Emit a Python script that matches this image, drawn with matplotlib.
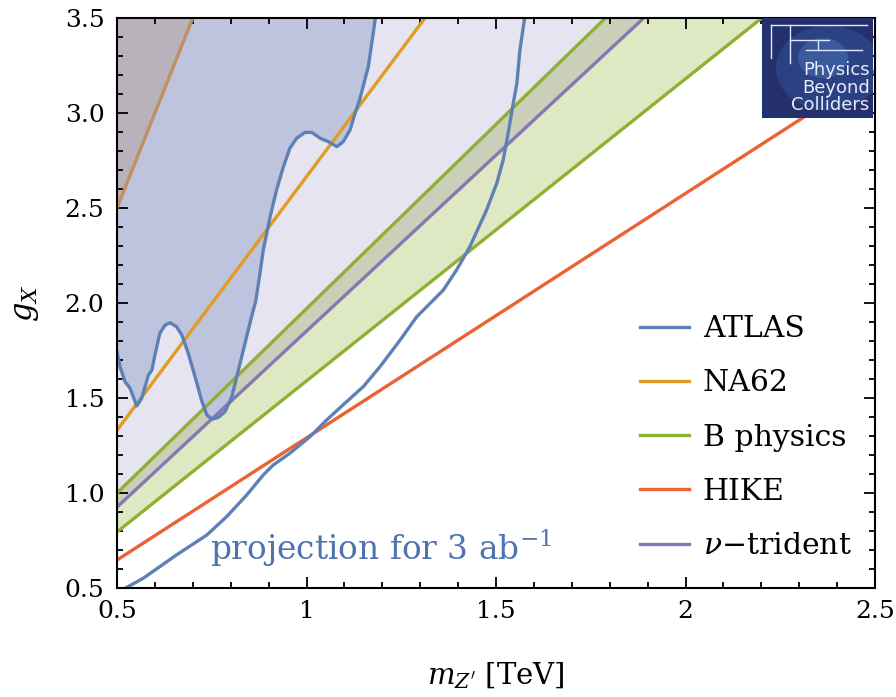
import numpy as np
import matplotlib.pyplot as plt
from matplotlib.patches import Rectangle, Ellipse

plt.rcParams['font.family'] = ['DejaVu Serif']
plt.rcParams['mathtext.fontset'] = 'dejavuserif'

# straight limits, given by their values at the two ends of the mass range
m_edge = [0.5, 2.5]
na62_g = [1.33, 6.67]
na62_old_g = [2.5, 12.5]
bphys_hi_g = [1.0, 4.88]
bphys_lo_g = [0.795, 3.975]
trident_g = [0.926, 4.63]
hike_g = [0.647, 3.22]

# ATLAS current bound (excluded above the curve)
atlas_m = [0.500, 0.508, 0.521, 0.534, 0.543, 0.552, 0.565, 0.574, 0.583, 0.592,
           0.600, 0.613, 0.627, 0.640, 0.657, 0.671, 0.688, 0.706, 0.723, 0.737,
           0.750, 0.767, 0.785, 0.803, 0.816, 0.829, 0.842, 0.855, 0.866, 0.876,
           0.886, 0.904, 0.921, 0.939, 0.956, 0.974, 0.996, 1.014, 1.036, 1.058,
           1.080, 1.097, 1.115, 1.128, 1.140, 1.163, 1.176, 1.183]
atlas_g = [1.744, 1.665, 1.586, 1.553, 1.507, 1.458, 1.498, 1.560, 1.621, 1.647,
           1.726, 1.841, 1.884, 1.896, 1.875, 1.832, 1.735, 1.612, 1.489, 1.411,
           1.388, 1.398, 1.428, 1.507, 1.612, 1.717, 1.823, 1.928, 2.010, 2.140,
           2.279, 2.454, 2.595, 2.717, 2.814, 2.867, 2.898, 2.898, 2.867, 2.849,
           2.823, 2.849, 2.911, 2.998, 3.068, 3.244, 3.419, 3.52]

# ATLAS projection for 3 ab^-1
proj_m = [0.505, 0.521, 0.569, 0.657, 0.737, 0.789, 0.842, 0.886, 0.912, 0.956,
          1.009, 1.053, 1.100, 1.150, 1.194, 1.247, 1.291, 1.335, 1.361, 1.396,
          1.431, 1.475, 1.502, 1.519, 1.532, 1.541, 1.547, 1.555, 1.563, 1.577]
proj_g = [0.485, 0.498, 0.551, 0.674, 0.779, 0.875, 0.989, 1.095, 1.147, 1.209,
          1.296, 1.384, 1.470, 1.560, 1.665, 1.805, 1.928, 2.016, 2.068, 2.174,
          2.296, 2.489, 2.630, 2.753, 2.893, 2.998, 3.068, 3.156, 3.330, 3.520]

xticks = [0.5, 1, 1.5, 2, 2.5]
xticklabels = ['0.5', '1', '1.5', '2', '2.5']
yticks = [0.5, 1.0, 1.5, 2.0, 2.5, 3.0, 3.5]

c_blue = '#5e81b5'
c_orange = '#e19c24'
c_green = '#8fb032'
c_red = '#eb6235'
c_purple = '#8778b3'

fig = plt.figure(figsize=(8.96, 6.97), dpi=100)
ax = fig.add_axes([117/896, 109/697, 758/896, 570/697])

top = [20, 20]
ax.fill_between(m_edge, trident_g, top, color='#e6e4f0', lw=0, zorder=1)
ax.fill_between(m_edge, bphys_lo_g, bphys_hi_g, color='#dee8c3', lw=0, zorder=1.1)
ax.fill_between(m_edge, trident_g, bphys_hi_g, color='#cbcfba', lw=0, zorder=1.2)
ax.fill_between(atlas_m, atlas_g, 20, color='#bec3de', lw=0, zorder=1.3)
ax.fill_between(m_edge, na62_old_g, top, color='#b9b2ba', lw=0, zorder=1.4)

lw = 2.4
ax.plot(m_edge, na62_old_g, color='#c09060', lw=lw, zorder=3)
ax.plot(proj_m, proj_g, color=c_blue, lw=lw, zorder=4)
ax.plot(atlas_m, atlas_g, color=c_blue, lw=lw, zorder=4, label='ATLAS')
ax.plot(m_edge, na62_g, color=c_orange, lw=lw, zorder=3, label='NA62')
ax.plot(m_edge, bphys_hi_g, color=c_green, lw=lw, zorder=3, label='B physics')
ax.plot(m_edge, bphys_lo_g, color=c_green, lw=lw, zorder=3)
ax.plot(m_edge, hike_g, color=c_red, lw=lw, zorder=3, label='HIKE')
ax.plot(m_edge, trident_g, color=c_purple, lw=lw, zorder=3, label='$\\nu$\u2212trident')

ax.set_xlim(0.5, 2.5)
ax.set_ylim(0.5, 3.5)
ax.set_xticks(xticks)
ax.set_xticklabels(xticklabels)
ax.set_yticks(yticks)
ax.set_yticklabels(['%.1f' % v for v in yticks])
ax.set_xticks(np.arange(0.5, 2.51, 0.1), minor=True)
ax.set_yticks(np.arange(0.5, 3.51, 0.1), minor=True)
ax.tick_params(which='both', direction='in', top=True, right=True, width=1.3,
               labelsize=18, pad=9)
ax.tick_params(which='major', length=8)
ax.tick_params(which='minor', length=4)
for s in ax.spines.values():
    s.set_linewidth(1.5)
    s.set_zorder(10)

ax.set_xlabel("$m_{Z'}$ [TeV]", fontsize=21)
ax.set_ylabel('$g_X$', fontsize=22)
ax.xaxis.set_label_coords(0.5, -0.127)
ax.yaxis.set_label_coords(-0.10, 0.5)

ax.text(0.745, 0.71, 'projection for 3 ab$^{-1}$', color='#4f74ad', fontsize=23.6,
        va='center', zorder=5)

ax.legend(loc='upper left', bbox_to_anchor=(0.69, 0.479), frameon=False,
          fontsize=21.5, handlelength=1.65, handletextpad=0.45,
          labelspacing=0.88, borderpad=0, borderaxespad=0)

# Physics Beyond Colliders badge in the corner
logo = fig.add_axes([762/896, (697-118)/697, 111/896, 100/697], zorder=20)
logo.set_xlim(0, 1)
logo.set_ylim(0, 1)
logo.axis('off')
logo.add_patch(Rectangle((0, 0), 1, 1, color='#24306c'))
logo.add_patch(Ellipse((0.6, 0.5), 0.95, 0.85, color='#3866b0', alpha=0.35, lw=0))
logo.add_patch(Ellipse((0.55, 0.6), 0.45, 0.4, color='#5f92d6', alpha=0.3, lw=0))
for xs, ys in [([0.08, 0.95], [0.93, 0.93]), ([0.25, 0.25], [0.93, 0.55]),
               ([0.25, 0.6], [0.78, 0.78]), ([0.4, 0.9], [0.68, 0.68]),
               ([0.08, 0.08], [0.93, 0.6]), ([0.5, 0.5], [0.78, 0.68])]:
    logo.plot(xs, ys, color='#dfe8ff', lw=1)
logo.text(0.97, 0.04, 'Physics\nBeyond\nColliders', color='#e8ecf8', fontsize=13,
          ha='right', va='bottom', family='DejaVu Sans', linespacing=0.95)

fig.savefig('out.png', dpi=100)
